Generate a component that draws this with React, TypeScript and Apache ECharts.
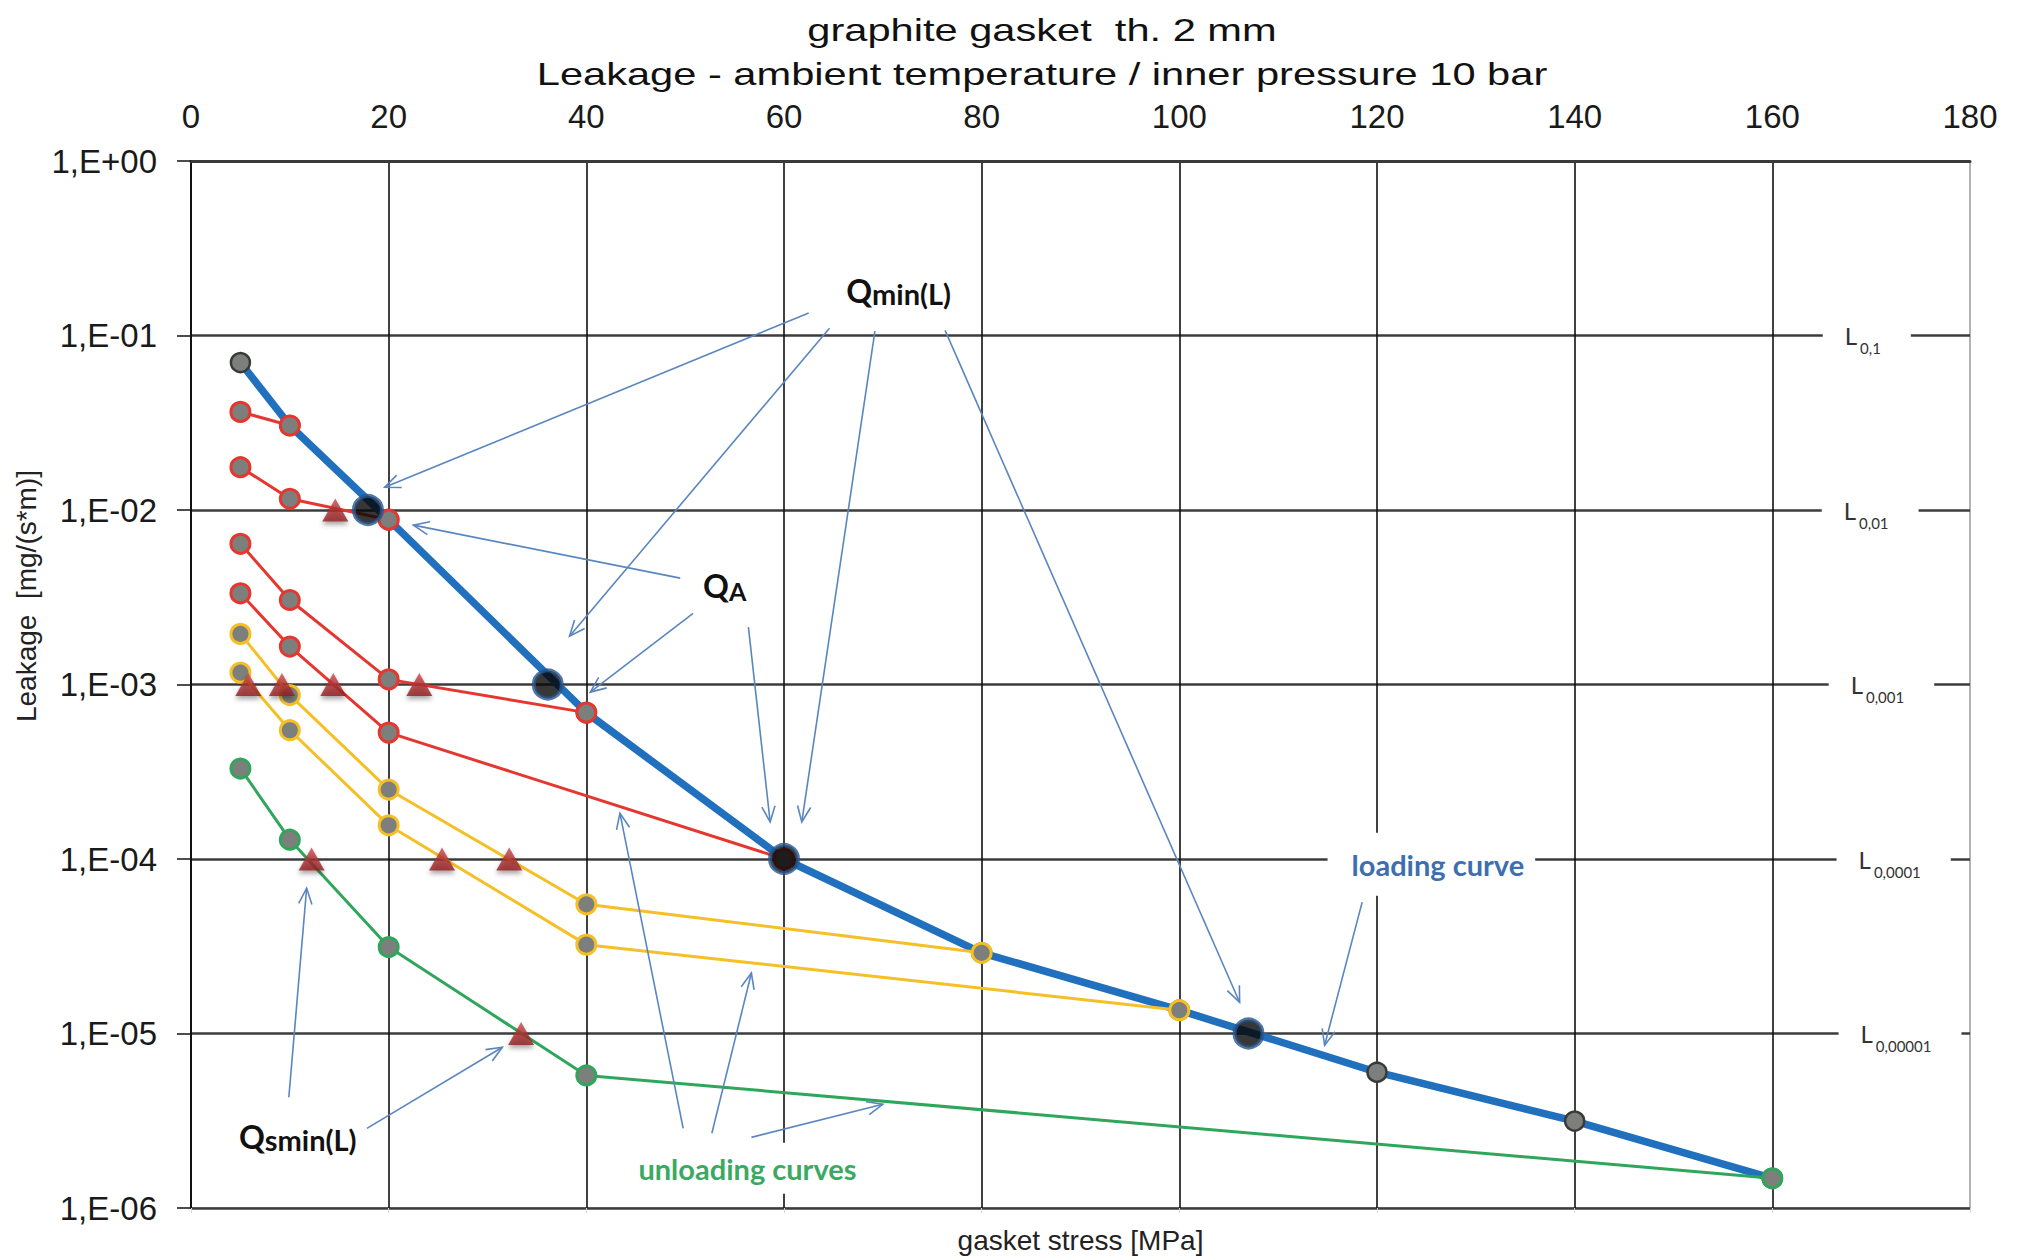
import React, { useEffect, useRef } from "react";
import * as echarts from "echarts";

// ---- texts ----
const titleLines = ["graphite gasket  th. 2 mm", "Leakage - ambient temperature / inner pressure 10 bar"];
const xAxisName = "gasket stress [MPa]";
const yAxisName = "Leakage  [mg/(s*m)]";

// ---- axis ranges ----
const stressMin = 0;
const stressMax = 180;
const stressStep = 20;
const leakMin = 1e-6;
const leakMax = 1;

// ---- loading curve: gasket stress [MPa] -> leakage [mg/(s*m)] ----
const loadingStress = [5, 10, 20, 40, 60, 80, 100, 120, 140, 160];
const loadingLeak = [7.0e-2, 3.05e-2, 8.8e-3, 6.9e-4, 1.0e-4, 2.9e-5, 1.36e-5, 6.0e-6, 3.15e-6, 1.48e-6];

// ---- unloading curves, each leaving the loading curve at its first stress level ----
const unloadA_Stress = [10, 5];
const unloadA_Leak = [3.05e-2, 3.65e-2];
const unloadB_Stress = [20, 10, 5];
const unloadB_Leak = [8.8e-3, 1.16e-2, 1.76e-2];
const unloadC_Stress = [40, 20, 10, 5];
const unloadC_Leak = [6.9e-4, 1.07e-3, 3.05e-3, 6.4e-3];
const unloadD_Stress = [60, 20, 10, 5];
const unloadD_Leak = [1.0e-4, 5.3e-4, 1.65e-3, 3.33e-3];
const unloadE_Stress = [80, 40, 20, 10, 5];
const unloadE_Leak = [2.9e-5, 5.5e-5, 2.5e-4, 8.7e-4, 1.95e-3];
const unloadF_Stress = [100, 40, 20, 10, 5];
const unloadF_Leak = [1.36e-5, 3.23e-5, 1.56e-4, 5.47e-4, 1.17e-3];
const unloadG_Stress = [160, 40, 20, 10, 5];
const unloadG_Leak = [1.48e-6, 5.75e-6, 3.13e-5, 1.29e-4, 3.3e-4];

// ---- Qmin(L): loading curve crossing the tightness classes ----
const qminStress = [17.9, 36.1, 60, 107];
const qminLeak = [1e-2, 1e-3, 1e-4, 1e-5];

// ---- Qsmin(L): unloading curves crossing the tightness classes ----
const qsminStress = [14.6, 5.8, 9.2, 14.4, 23.1, 12.2, 25.4, 32.2, 33.4];
const qsminLeak = [1e-2, 1e-3, 1e-3, 1e-3, 1e-3, 1e-4, 1e-4, 1e-4, 1e-5];

// ---- tightness class labels L0,1 ... L0,00001 ----
const tightnessText = ["0,1", "0,01", "0,001", "0,0001", "0,00001"];
const tightnessLeak = [1e-1, 1e-2, 1e-3, 1e-4, 1e-5];
const tightnessLabelStress = [165.1, 165.0, 165.7, 166.5, 166.7];

// ---- callouts ----
const noteStress = [71.6, 54.0, 10.8, 125.5, 56.3];
const noteLeak = [1.82e-1, 3.71e-3, 2.58e-6, 9.33e-5, 1.69e-6];

// ---- callout pointers (from -> to) ----
const arrowFromStress = [62.5, 64.6, 69.2, 76.3, 49.5, 50.8, 56.4, 49.8, 52.7, 56.7, 9.9, 17.8, 118.5];
const arrowFromLeak = [1.345e-1, 1.1e-1, 1.06e-1, 1.07e-1, 4.07e-3, 2.56e-3, 2.13e-3, 2.86e-6, 2.68e-6, 2.54e-6, 4.31e-6, 2.86e-6, 5.66e-5];
const arrowToStress = [19.6, 38.3, 61.8, 106.1, 22.5, 40.4, 58.6, 43.4, 56.7, 70.0, 11.7, 31.5, 114.7];
const arrowToLeak = [1.35e-2, 1.89e-3, 1.63e-4, 1.51e-5, 8.19e-3, 9.04e-4, 1.63e-4, 1.83e-4, 2.22e-5, 3.93e-6, 6.8e-5, 8.34e-6, 8.56e-6];

// ---- styling ----
const FONT_AXIS = "'Liberation Sans', Arial, sans-serif";
const FONT_NOTE = "Lato, 'Open Sans', sans-serif";
const BLUE = "#2170BE";
const RED = "#E5372F";
const YELLOW = "#F5BF26";
const GREEN = "#2FA65B";
const MARKER_FILL = "#7D7F7D";
const ARROW = "#5A86BF";

const unloadingStress = [unloadA_Stress, unloadB_Stress, unloadC_Stress, unloadD_Stress, unloadE_Stress, unloadF_Stress, unloadG_Stress];
const unloadingLeak = [unloadA_Leak, unloadB_Leak, unloadC_Leak, unloadD_Leak, unloadE_Leak, unloadF_Leak, unloadG_Leak];
const unloadingColor = [RED, RED, RED, RED, YELLOW, YELLOW, GREEN];

const pairs = (xs: number[], ys: number[]) => xs.map((x, i) => [x, ys[i]]);

const formatLog = (v: number) => {
  const e = Math.round(Math.log10(v));
  const sign = e < 0 ? "-" : "+";
  return `1,E${sign}${String(Math.abs(e)).padStart(2, "0")}`;
};

const qRich = {
  q: { fontSize: 32, fontWeight: "bold", fontFamily: FONT_NOTE, fill: "#111", lineHeight: 36 },
  t: { fontSize: 29, fontWeight: "bold", fontFamily: FONT_NOTE, fill: "#111", verticalAlign: "bottom" },
  a: { fontSize: 25, fontWeight: "bold", fontFamily: FONT_NOTE, fill: "#111", verticalAlign: "bottom" },
};

const noteStyles: any[] = [
  { text: "{q|Q}{t|min(L)}", rich: qRich },
  { text: "{q|Q}{a|A}", rich: qRich },
  { text: "{q|Q}{t|smin(L)}", rich: qRich },
  {
    text: "loading curve",
    fill: "#3D6FB0",
    fontSize: 29,
    backgroundColor: "#fff",
    padding: [17, 11, 17, 24],
  },
  {
    text: "unloading curves",
    fill: "#3AAA62",
    fontSize: 29,
    backgroundColor: "#fff",
    padding: [11, 12, 11, 12],
  },
];

function buildOption(): any {
  const series: any[] = [];

  series.push({
    type: "line",
    name: "loading curve",
    data: pairs(loadingStress, loadingLeak),
    symbol: "circle",
    symbolSize: 19,
    lineStyle: { color: BLUE, width: 7.5 },
    itemStyle: { color: MARKER_FILL, borderColor: "#3a3a3a", borderWidth: 2.5 },
    z: 3,
  });

  unloadingStress.forEach((xs, k) => {
    series.push({
      type: "line",
      name: "unloading curve " + (k + 1),
      data: pairs(xs, unloadingLeak[k]),
      symbol: "circle",
      symbolSize: 19,
      lineStyle: { color: unloadingColor[k], width: 3 },
      itemStyle: { color: MARKER_FILL, borderColor: unloadingColor[k], borderWidth: 3 },
      z: 4,
    });
  });

  series.push({
    type: "scatter",
    name: "Qsmin(L)",
    data: pairs(qsminStress, qsminLeak),
    symbol: "triangle",
    symbolSize: [26, 23],
    itemStyle: {
      color: new echarts.graphic.LinearGradient(0, 0, 0, 1, [
        { offset: 0, color: "#CC4646" },
        { offset: 1, color: "#8E1C1F" },
      ]),
      shadowColor: "rgba(0,0,0,0.45)",
      shadowBlur: 5,
      shadowOffsetY: 3,
    },
    z: 6,
  });

  series.push({
    type: "scatter",
    name: "Qmin(L)",
    data: pairs(qminStress, qminLeak),
    symbol: "circle",
    symbolSize: 28,
    itemStyle: { color: "#050505", borderColor: "#27568C", borderWidth: 4 },
    z: 7,
  });

  // tightness class labels sitting on the decade lines
  series.push({
    type: "custom",
    name: "tightness classes",
    coordinateSystem: "cartesian2d",
    data: tightnessText.map((_, i) => [tightnessLabelStress[i], tightnessLeak[i], i]),
    encode: { x: 0, y: 1 },
    clip: false,
    silent: true,
    z: 9,
    renderItem: (_params: any, api: any) => {
      const i = api.value(2);
      const p = api.coord([api.value(0), api.value(1)]);
      return {
        type: "text",
        x: p[0],
        y: p[1],
        style: {
          text: `{l|L}{s|${tightnessText[i]}}`,
          align: "left",
          verticalAlign: "middle",
          backgroundColor: "#fff",
          padding: [4, 30, 4, 22],
          rich: {
            l: { fontSize: 24, fontFamily: FONT_NOTE, fill: "#333", lineHeight: 40 },
            s: { fontSize: 15, fontFamily: FONT_NOTE, fill: "#333", verticalAlign: "bottom", padding: [0, 0, 0, 3] },
          },
        },
      };
    },
  });

  // pointers from the callouts to the curves
  series.push({
    type: "custom",
    name: "pointers",
    coordinateSystem: "cartesian2d",
    data: arrowFromStress.map((x, i) => [x, arrowFromLeak[i], arrowToStress[i], arrowToLeak[i]]),
    encode: { x: [0, 2], y: [1, 3] },
    clip: false,
    silent: true,
    z: 8,
    renderItem: (_params: any, api: any) => {
      const a = api.coord([api.value(0), api.value(1)]);
      const b = api.coord([api.value(2), api.value(3)]);
      const ang = Math.atan2(b[1] - a[1], b[0] - a[0]);
      const len = 17;
      const spread = 0.4;
      const w1 = [b[0] - len * Math.cos(ang - spread), b[1] - len * Math.sin(ang - spread)];
      const w2 = [b[0] - len * Math.cos(ang + spread), b[1] - len * Math.sin(ang + spread)];
      return {
        type: "group",
        children: [
          { type: "line", shape: { x1: a[0], y1: a[1], x2: b[0], y2: b[1] }, style: { stroke: ARROW, lineWidth: 1.6 } },
          { type: "polyline", shape: { points: [w1, b, w2] }, style: { stroke: ARROW, lineWidth: 1.6, fill: null } },
        ],
      };
    },
  });

  // callout texts
  series.push({
    type: "custom",
    name: "callouts",
    coordinateSystem: "cartesian2d",
    data: noteStress.map((x, i) => [x, noteLeak[i], i]),
    encode: { x: 0, y: 1 },
    clip: false,
    silent: true,
    z: 10,
    renderItem: (_params: any, api: any) => {
      const i = api.value(2);
      const p = api.coord([api.value(0), api.value(1)]);
      const cfg = noteStyles[i];
      return {
        type: "text",
        x: p[0],
        y: p[1],
        style: {
          text: cfg.text,
          rich: cfg.rich,
          align: "center",
          verticalAlign: "middle",
          fill: cfg.fill || "#111",
          fontSize: cfg.fontSize || 30,
          fontWeight: "bold",
          fontFamily: FONT_NOTE,
          backgroundColor: cfg.backgroundColor,
          padding: cfg.padding,
        },
      };
    },
  });

  return {
    animation: false,
    backgroundColor: "#fff",
    grid: {
      left: 191,
      right: 52,
      top: 161,
      bottom: 52,
      containLabel: false,
      outerBoundsMode: "none",
      show: true,
      borderColor: "#9c9c9c",
      borderWidth: 1.5,
      backgroundColor: "#fff",
    },
    graphic: {
      elements: [
        {
          type: "text",
          x: 1042,
          y: 30,
          scaleX: 1.3,
          style: { text: titleLines[0], fontSize: 32, fontFamily: FONT_AXIS, fill: "#111", align: "center", verticalAlign: "middle" },
        },
        {
          type: "text",
          x: 1042,
          y: 74,
          scaleX: 1.3,
          style: { text: titleLines[1], fontSize: 32, fontFamily: FONT_AXIS, fill: "#111", align: "center", verticalAlign: "middle" },
        },
      ],
    },
    xAxis: [
      {
        type: "value",
        position: "top",
        min: stressMin,
        max: stressMax,
        interval: stressStep,
        axisLine: { show: true, lineStyle: { color: "#3a3a3a", width: 3 } },
        axisTick: { show: false },
        axisLabel: { fontSize: 33, color: "#1a1a1a", fontFamily: FONT_AXIS, margin: 28 },
        splitLine: { show: true, showMaxLine: false, lineStyle: { color: "#111", width: 1.6 } },
      },
      {
        type: "value",
        position: "bottom",
        min: stressMin,
        max: stressMax,
        interval: stressStep,
        axisLine: { show: false },
        axisTick: { show: true, length: 5, lineStyle: { color: "#d6d6d6" } },
        axisLabel: { show: false },
        splitLine: { show: false },
        name: xAxisName,
        nameLocation: "middle",
        nameGap: 18,
        nameTextStyle: { fontSize: 28, color: "#222", fontFamily: FONT_AXIS },
      },
    ],
    yAxis: {
      type: "log",
      logBase: 10,
      min: leakMin,
      max: leakMax,
      splitNumber: 6,
      axisLine: { show: true, lineStyle: { color: "#111", width: 2 } },
      axisTick: { show: true, length: 14, lineStyle: { color: "#111", width: 1.5 } },
      minorTick: { show: false },
      axisLabel: { formatter: formatLog, fontSize: 33, color: "#1a1a1a", fontFamily: FONT_AXIS, margin: 34 },
      splitLine: { show: true, lineStyle: { color: "#3c3c3c", width: 2.6 } },
      name: yAxisName,
      nameLocation: "middle",
      nameRotate: 90,
      nameGap: 144,
      nameTextStyle: { fontSize: 28, color: "#222", fontFamily: FONT_AXIS, padding: [0, 0, 0, 177] },
    },
    series,
  };
}

export default function App() {
  const ref = useRef<HTMLDivElement>(null);
  useEffect(() => {
    if (!ref.current) return;
    const chart = echarts.init(ref.current, null, { renderer: "svg" });
    chart.setOption(buildOption());
    return () => chart.dispose();
  }, []);
  return (
    <div
      ref={ref}
      style={{ position: "fixed", left: 0, top: 0, width: 2022, height: 1260, background: "#fff" }}
    />
  );
}
